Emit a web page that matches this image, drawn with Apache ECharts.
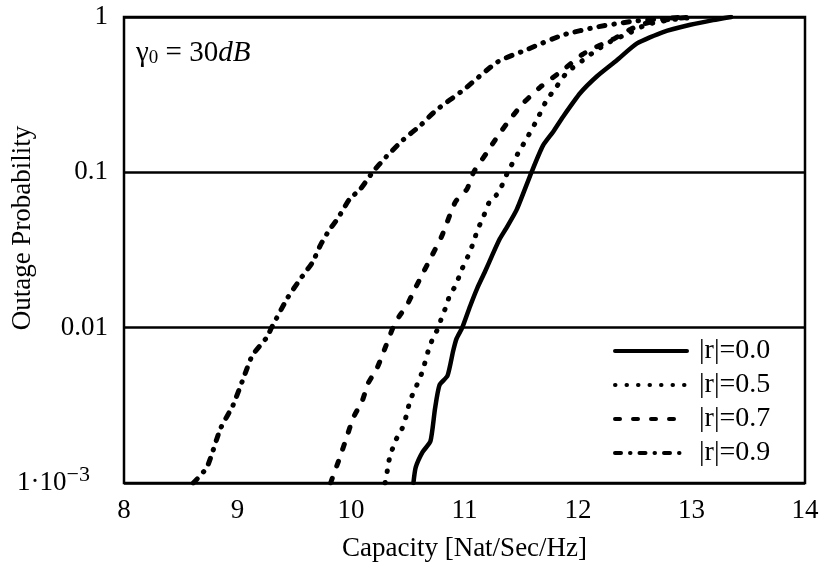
<!DOCTYPE html>
<html>
<head>
<meta charset="utf-8">
<script src="https://cdn.jsdelivr.net/npm/echarts@6/dist/echarts.min.js"></script>
<style>html,body{margin:0;padding:0;background:#fff}#c{width:827px;height:567px}</style>
</head>
<body>
<div id="c"></div>
<script>
// ---- data ----
const seriesNames = ['|r|=0.0', '|r|=0.5', '|r|=0.7', '|r|=0.9'];

const cap00 = [10.55,10.57,10.63,10.70,10.74,10.78,10.85,10.90,10.93,10.98,11.05,11.11,11.18,11.24,11.31,11.36,11.46,11.59,11.69,11.78,11.87,12.02,12.17,12.34,12.52,12.75,12.99,13.19,13.35];
const out00 = [0.001,0.00126,0.00158,0.00186,0.003,0.00427,0.0049,0.00708,0.0085,0.01,0.0138,0.0178,0.0229,0.0288,0.0372,0.0427,0.0575,0.1,0.148,0.182,0.229,0.324,0.417,0.525,0.676,0.80,0.891,0.955,1.0];

const cap05 = [10.30,10.32,10.34,10.39,10.45,10.49,10.52,10.58,10.63,10.68,10.72,10.77,10.80,10.84,10.87,10.92,10.98,11.03,11.08,11.11,11.17,11.22,11.30,11.38,11.47,11.55,11.64,11.72,11.81,11.90,12.04,12.17,12.28,12.46,12.60,12.80,13.05];
const out05 = [0.001,0.0012,0.00145,0.00186,0.00224,0.00275,0.00339,0.00427,0.00525,0.00708,0.0085,0.01,0.0117,0.0138,0.0162,0.0186,0.024,0.0288,0.0355,0.0417,0.0525,0.0646,0.0741,0.1,0.132,0.166,0.219,0.288,0.355,0.437,0.525,0.617,0.692,0.794,0.891,0.955,1.0];

const cap07 = [9.82,9.90,9.96,10.02,10.10,10.15,10.23,10.28,10.37,10.43,10.49,10.55,10.64,10.71,10.80,10.92,11.02,11.08,11.20,11.29,11.40,11.52,11.67,11.87,12.04,12.17,12.31,12.46,12.60,12.80,13.0];
const out07 = [0.001,0.00145,0.00195,0.00263,0.00339,0.00437,0.0055,0.00676,0.01,0.012,0.0138,0.017,0.0229,0.0288,0.0389,0.0646,0.0776,0.1,0.135,0.17,0.219,0.28,0.355,0.457,0.575,0.646,0.72,0.832,0.912,0.966,1.0];

const cap09 = [8.61,8.73,8.85,8.96,9.05,9.13,9.26,9.30,9.44,9.55,9.66,9.73,9.81,9.88,9.99,10.08,10.19,10.31,10.46,10.61,10.75,10.99,11.29,11.55,11.87,12.17,12.46,12.70,12.95];
const out09 = [0.001,0.00126,0.00224,0.00316,0.00468,0.0066,0.0087,0.01,0.0155,0.0204,0.0263,0.0339,0.0427,0.050,0.0676,0.0776,0.1,0.126,0.162,0.200,0.251,0.339,0.513,0.617,0.767,0.863,0.933,0.97,1.0];

const xTicks = [8, 9, 10, 11, 12, 13, 14];
const yTickValues = [0.001, 0.01, 0.1, 1];
const yTickLabels = ['{m|1·10}{s|−3}', '0.01', '0.1', '1'];

// ---- build ----
const FONT = '"Liberation Serif", "DejaVu Serif", serif';
function pairs(xs, ys) { return xs.map((x, i) => [x, ys[i]]); }
const dashes = ['solid', [0.5, 11], [5, 13], [6, 9, 0.5, 9]];
const dataSets = [pairs(cap00, out00), pairs(cap05, out05), pairs(cap07, out07), pairs(cap09, out09)];

const chart = echarts.init(document.getElementById('c'), null, { renderer: 'canvas' });
chart.setOption({
  animation: false,
  backgroundColor: '#fff',
  grid: { left: 124, right: 22, top: 17, bottom: 82, show: true, borderColor: '#000', borderWidth: 2.5, containLabel: false },
  xAxis: {
    type: 'value', min: xTicks[0], max: xTicks[xTicks.length - 1], interval: 1,
    axisLine: { show: false }, axisTick: { show: false }, splitLine: { show: false },
    axisLabel: { color: '#000', fontFamily: FONT, fontSize: 27, margin: 14 },
    name: 'Capacity [Nat/Sec/Hz]', nameLocation: 'middle', nameGap: 52,
    nameTextStyle: { color: '#000', fontFamily: FONT, fontSize: 27 }
  },
  yAxis: {
    type: 'log', logBase: 10, min: yTickValues[0], max: yTickValues[yTickValues.length - 1],
    axisLine: { show: false }, axisTick: { show: false },
    splitLine: { show: true, lineStyle: { color: '#000', width: 2.5 } },
    axisLabel: {
      color: '#000', fontFamily: FONT, fontSize: 27, margin: 16,
      formatter: function (v) {
        let best = 0, d = Infinity;
        yTickValues.forEach((t, i) => { const e = Math.abs(Math.log10(t) - Math.log10(v)); if (e < d) { d = e; best = i; } });
        return yTickLabels[best];
      },
      rich: {
        m: { fontFamily: FONT, fontSize: 27, color: '#000' },
        s: { fontFamily: FONT, fontSize: 22, color: '#000', padding: [0, 18, 16, 0] }
      }
    }
  },
  legend: {
    orient: 'vertical', left: 610, top: 330, backgroundColor: '#fff',
    padding: [7, 10, 7, 3], itemWidth: 72, itemHeight: 14, itemGap: 6,
    itemStyle: { opacity: 0 },
    lineStyle: { width: 4, type: 'inherit', cap: 'round' },
    data: seriesNames,
    textStyle: { color: '#000', fontFamily: FONT, fontSize: 28, lineHeight: 28, padding: [0, 0, 0, 7] }
  },
  graphic: [
    {
      type: 'text', left: 136, top: 39,
      style: {
        text: '{g|γ}{b|0}{t| = 30}{i|dB}',
        rich: {
          g: { fontFamily: FONT, fontSize: 29, fill: '#000' },
          b: { fontFamily: FONT, fontSize: 19, fill: '#000', padding: [10, 0, 0, 0] },
          t: { fontFamily: FONT, fontSize: 29, fill: '#000' },
          i: { fontFamily: FONT, fontSize: 29, fontStyle: 'italic', fill: '#000' }
        }
      }
    },
    {
      type: 'text', x: 23, y: 228, rotation: Math.PI / 2,
      style: { text: 'Outage Probability', fontFamily: FONT, fontSize: 27, fill: '#000', align: 'center', verticalAlign: 'middle' }
    }
  ],
  series: seriesNames.map((n, i) => ({
    name: n, type: 'line', data: dataSets[i], showSymbol: false, symbol: 'none', smooth: 0.2,
    lineStyle: { color: '#000', width: i === 0 ? 4.5 : 5, type: dashes[i], cap: 'round', join: 'round' },
    itemStyle: { color: '#000' }
  }))
});
</script>
</body>
</html>
